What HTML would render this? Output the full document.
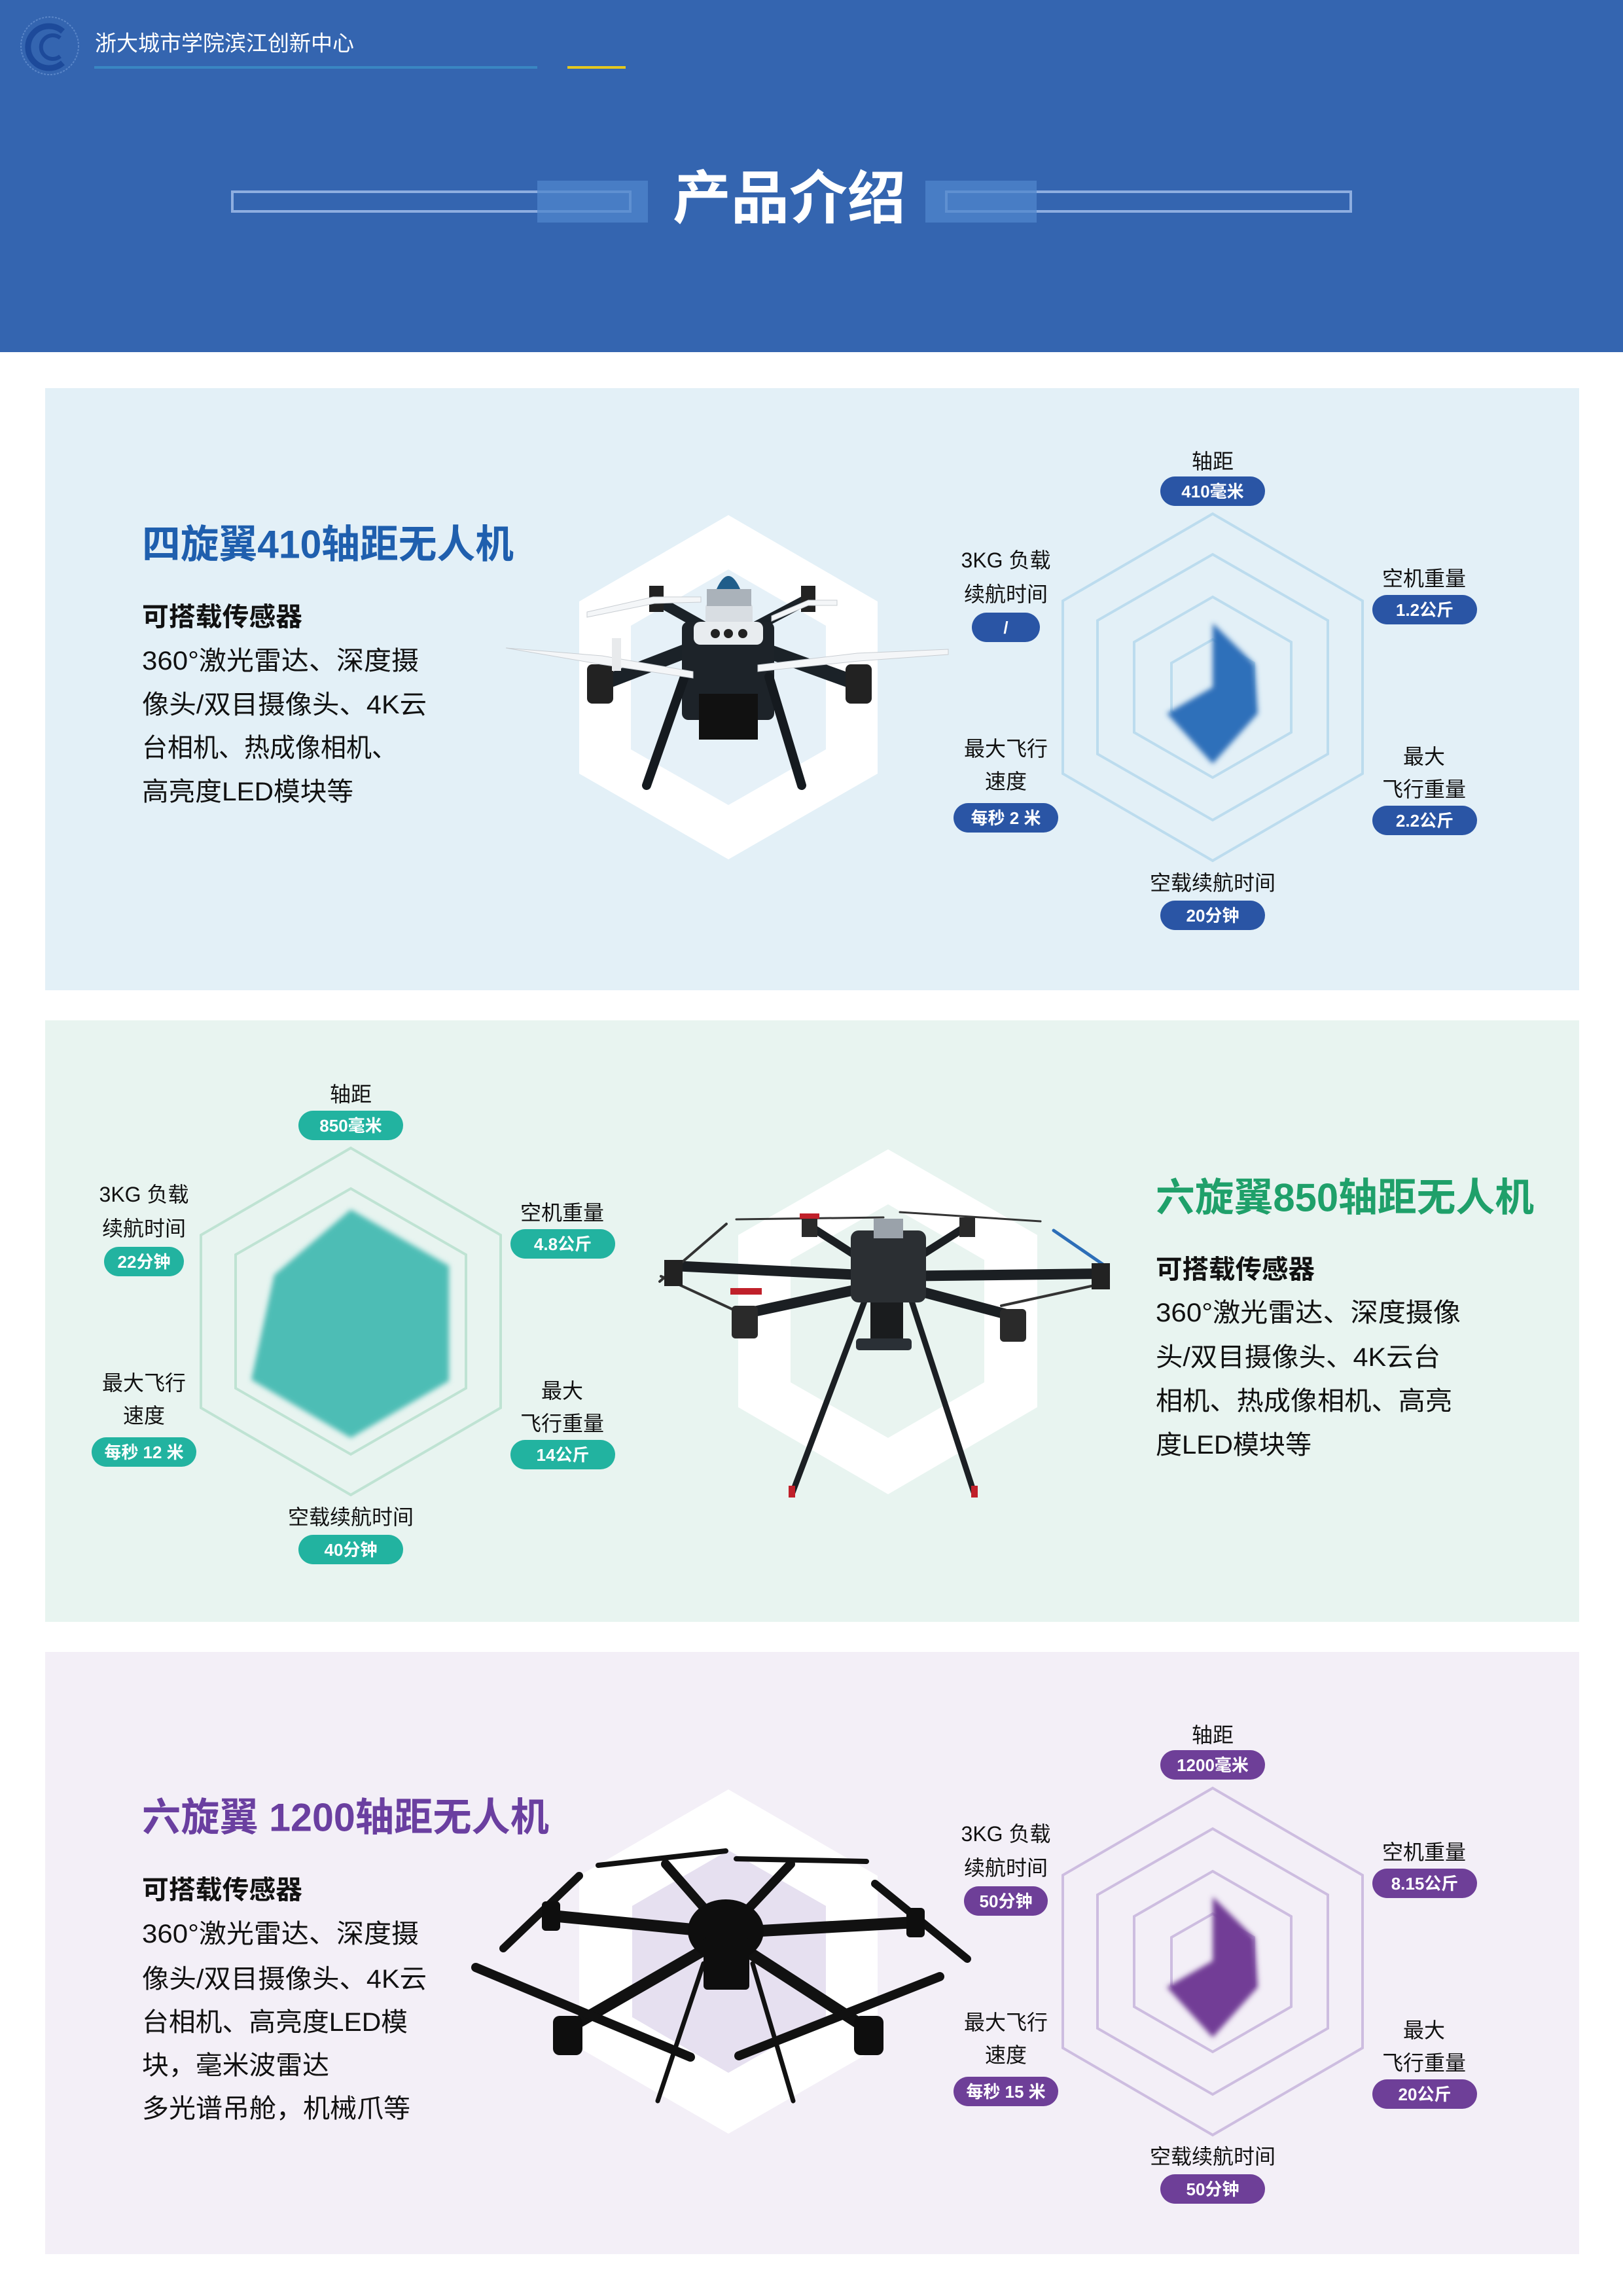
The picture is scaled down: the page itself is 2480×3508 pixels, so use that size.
<!DOCTYPE html>
<html><head><meta charset="utf-8">
<style>
html,body{margin:0;padding:0;background:#fff}
svg{display:block}
text{font-family:"Liberation Sans","Noto Sans CJK SC",sans-serif}
</style></head>
<body>
<svg width="2480" height="3508" viewBox="0 0 2480 3508" xmlns="http://www.w3.org/2000/svg">
<defs>
<filter id="soft" x="-20%" y="-20%" width="140%" height="140%"><feGaussianBlur stdDeviation="4"/></filter>
<linearGradient id="gb" x1="0" y1="0" x2="0" y2="1"><stop offset="0" stop-color="#2f6dba"/><stop offset="1" stop-color="#2a74c4"/></linearGradient>
</defs>
<!-- header -->
<rect x="0" y="0" width="2480" height="538" fill="#3465b0"/>
<circle cx="76" cy="70" r="44" fill="none" stroke="#5a86c8" stroke-width="2" stroke-dasharray="3 2"/>
<path d="M96 48 A32 32 0 1 0 96 96" fill="none" stroke="#1d4a9a" stroke-width="9"/>
<path d="M92 58 A18 18 0 1 0 92 86" fill="none" stroke="#1d4a9a" stroke-width="6"/>
<text x="145" y="66" font-size="33" fill="#fff" dominant-baseline="central" textLength="396" lengthAdjust="spacingAndGlyphs">浙大城市学院滨江创新中心</text>
<rect x="144" y="101" width="677" height="4" fill="#3a86c2"/>
<rect x="867" y="101" width="89" height="4" fill="#e3c81e"/>
<rect x="355" y="293" width="608" height="30" fill="none" stroke="#8eaee0" stroke-width="4"/>
<rect x="1446" y="293" width="618" height="30" fill="none" stroke="#8eaee0" stroke-width="4"/>
<rect x="821" y="276" width="169" height="64" fill="#4f86cc" opacity="0.75"/>
<rect x="1414" y="276" width="170" height="64" fill="#4f86cc" opacity="0.75"/>
<text x="1206" y="303" font-size="88" font-weight="bold" fill="#fff" text-anchor="middle" dominant-baseline="central" textLength="356" lengthAdjust="spacingAndGlyphs">产品介绍</text>

<!-- section backgrounds -->
<rect x="69" y="593" width="2344" height="920" fill="#e3f0f7"/>
<rect x="69" y="1559" width="2344" height="919" fill="#e8f4f0"/>
<rect x="69" y="2524" width="2344" height="920" fill="#f3eff7"/>

<!-- ===== Section 1 ===== -->
<g fill="#111">
<text x="217" y="832" font-size="60" font-weight="bold" fill="#1f5fae" dominant-baseline="central" textLength="568" lengthAdjust="spacingAndGlyphs">四旋翼410轴距无人机</text>
<text x="217" y="943" font-size="40" font-weight="bold" dominant-baseline="central" textLength="245" lengthAdjust="spacingAndGlyphs">可搭载传感器</text>
<text x="217" y="1010" font-size="40" dominant-baseline="central" textLength="423" lengthAdjust="spacingAndGlyphs">360°激光雷达、深度摄</text>
<text x="217" y="1077" font-size="40" dominant-baseline="central" textLength="435" lengthAdjust="spacingAndGlyphs">像头/双目摄像头、4K云</text>
<text x="217" y="1143" font-size="40" dominant-baseline="central" textLength="390" lengthAdjust="spacingAndGlyphs">台相机、热成像相机、</text>
<text x="217" y="1210" font-size="40" dominant-baseline="central" textLength="323" lengthAdjust="spacingAndGlyphs">高亮度LED模块等</text>
</g>
<polygon points="1113,787 1341,919 1341,1182 1113,1313 885,1182 885,919" fill="#fff"/>
<polygon points="1113,870 1262,956 1262,1145 1113,1230 964,1145 964,956" fill="#e6f1f8"/>
<!-- drone 1 -->
<g>
<line x1="1060" y1="990" x2="918" y2="1045" stroke="#1b2228" stroke-width="22"/>
<line x1="1160" y1="990" x2="1312" y2="1045" stroke="#1b2228" stroke-width="22"/>
<line x1="1080" y1="960" x2="1000" y2="915" stroke="#1b2228" stroke-width="16"/>
<line x1="1150" y1="960" x2="1235" y2="915" stroke="#1b2228" stroke-width="16"/>
<rect x="1042" y="950" width="141" height="150" rx="10" fill="#1d2329"/>
<rect x="1068" y="1060" width="90" height="70" fill="#111"/>
<rect x="1078" y="922" width="72" height="38" rx="6" fill="#d8dde2"/>
<rect x="1080" y="900" width="68" height="26" fill="#aab2ba"/>
<path d="M1095 900 Q1113 860 1131 900 Z" fill="#1f5d8a"/>
<rect x="1060" y="950" width="106" height="35" rx="10" fill="#e8ecef"/>
<circle cx="1093" cy="968" r="7" fill="#222"/><circle cx="1113" cy="968" r="7" fill="#222"/><circle cx="1135" cy="968" r="7" fill="#222"/>
<line x1="1046" y1="1034" x2="988" y2="1200" stroke="#151a1f" stroke-width="14" stroke-linecap="round"/>
<line x1="1175" y1="1034" x2="1225" y2="1200" stroke="#151a1f" stroke-width="14" stroke-linecap="round"/>
<rect x="897" y="1015" width="40" height="60" rx="8" fill="#222"/>
<rect x="1292" y="1015" width="40" height="60" rx="8" fill="#222"/>
<rect x="992" y="895" width="22" height="40" fill="#222"/>
<rect x="1224" y="895" width="22" height="40" fill="#222"/>
<path d="M773 990 L918 1015 L1059 1036 L1059 1026 L920 1002 Z" fill="#f4f6f8" stroke="#c8cdd2" stroke-width="1"/>
<path d="M1158 1026 L1312 1010 L1449 1000 L1449 992 L1310 998 L1158 1016 Z" fill="#f4f6f8" stroke="#c8cdd2" stroke-width="1"/>
<path d="M897 943 L1000 922 L1071 920 L1071 912 L998 912 L897 935 Z" fill="#f4f6f8" stroke="#c8cdd2" stroke-width="1"/>
<path d="M1179 949 L1235 925 L1279 925 L1279 917 L1235 917 L1179 941 Z" fill="#f4f6f8" stroke="#c8cdd2" stroke-width="1"/>
<rect x="935" y="975" width="14" height="50" fill="#e8eaec"/>
</g>
<!-- radar 1 -->
<g fill="none" stroke="#bcdcee" stroke-width="4">
<polygon points="1853,785 2082,918 2082,1182 1853,1315 1624,1182 1624,918"/>
<polygon points="1853,847 2029,948 2029,1152 1853,1253 1677,1152 1677,948"/>
<polygon points="1853,912 1973,981 1973,1119 1853,1188 1733,1119 1733,981"/>
<polygon points="1853,977 1916,1013 1916,1087 1853,1123 1790,1087 1790,1013"/>
</g>
<polygon points="1853,952 1917,1015 1922,1090 1853,1167 1783,1090 1853,1050" fill="#2e6fba" filter="url(#soft)"/>
<g font-size="32" fill="#111" text-anchor="middle" dominant-baseline="central">
<text x="1853" y="705">轴距</text>
<text x="1537" y="856">3KG 负载</text><text x="1537" y="908">续航时间</text>
<text x="1537" y="1144">最大飞行</text><text x="1537" y="1194">速度</text>
<text x="2176" y="884">空机重量</text>
<text x="2176" y="1156">最大</text><text x="2176" y="1206">飞行重量</text>
<text x="1853" y="1349">空载续航时间</text>
</g>
<g fill="#2a55a5">
<rect x="1773" y="728" width="160" height="45" rx="22.5"/>
<rect x="1485" y="936" width="104" height="45" rx="22.5"/>
<rect x="1457" y="1227" width="160" height="45" rx="22.5"/>
<rect x="2097" y="909" width="160" height="45" rx="22.5"/>
<rect x="2097" y="1231" width="160" height="45" rx="22.5"/>
<rect x="1773" y="1376" width="160" height="45" rx="22.5"/>
</g>
<g font-size="26" font-weight="bold" fill="#fff" text-anchor="middle" dominant-baseline="central">
<text x="1853" y="751">410毫米</text>
<text x="1537" y="959">/</text>
<text x="1537" y="1250">每秒 2 米</text>
<text x="2177" y="932">1.2公斤</text>
<text x="2177" y="1254">2.2公斤</text>
<text x="1853" y="1399">20分钟</text>
</g>

<!-- ===== Section 2 ===== -->
<g fill="none" stroke="#bfe3d3" stroke-width="4">
<polygon points="536,1754 765,1887 765,2151 536,2284 307,2151 307,1887"/>
<polygon points="536,1816 712,1917 712,2121 536,2222 360,2121 360,1917"/>
</g>
<polygon points="536,1848 686,1934 686,2110 536,2197 384,2108 419,1948" fill="#4dbdb5" filter="url(#soft)"/>
<g font-size="32" fill="#111" text-anchor="middle" dominant-baseline="central">
<text x="536" y="1672">轴距</text>
<text x="220" y="1825">3KG 负载</text><text x="220" y="1877">续航时间</text>
<text x="220" y="2113">最大飞行</text><text x="220" y="2163">速度</text>
<text x="859" y="1853">空机重量</text>
<text x="859" y="2125">最大</text><text x="859" y="2175">飞行重量</text>
<text x="536" y="2318">空载续航时间</text>
</g>
<g fill="#22b3a0">
<rect x="456" y="1697" width="160" height="45" rx="22.5"/>
<rect x="159" y="1905" width="122" height="45" rx="22.5"/>
<rect x="140" y="2196" width="160" height="45" rx="22.5"/>
<rect x="780" y="1878" width="160" height="45" rx="22.5"/>
<rect x="780" y="2200" width="160" height="45" rx="22.5"/>
<rect x="456" y="2345" width="160" height="45" rx="22.5"/>
</g>
<g font-size="26" font-weight="bold" fill="#fff" text-anchor="middle" dominant-baseline="central">
<text x="536" y="1720">850毫米</text>
<text x="220" y="1928">22分钟</text>
<text x="220" y="2219">每秒 12 米</text>
<text x="860" y="1901">4.8公斤</text>
<text x="860" y="2223">14公斤</text>
<text x="536" y="2368">40分钟</text>
</g>
<polygon points="1357,1756 1585,1887 1585,2150 1357,2283 1128,2150 1128,1887" fill="#fff"/>
<polygon points="1357,1840 1504,1925 1504,2112 1357,2197 1208,2112 1208,1925" fill="#e9f4f0"/>
<!-- drone 2 -->
<g stroke="#1b1f23" stroke-linecap="round">
<line x1="1357" y1="1950" x2="1027" y2="1934" stroke-width="16"/>
<line x1="1357" y1="1950" x2="1683" y2="1946" stroke-width="16"/>
<line x1="1357" y1="1950" x2="1237" y2="1873" stroke-width="12"/>
<line x1="1357" y1="1950" x2="1478" y2="1873" stroke-width="12"/>
<line x1="1357" y1="1960" x2="1138" y2="2007" stroke-width="16"/>
<line x1="1357" y1="1960" x2="1549" y2="2011" stroke-width="16"/>
<line x1="1321" y1="1988" x2="1210" y2="2283" stroke-width="9"/>
<line x1="1393" y1="1988" x2="1489" y2="2283" stroke-width="9"/>
<line x1="1125" y1="1863" x2="1350" y2="1860" stroke-width="3" stroke="#333"/>
<line x1="1375" y1="1852" x2="1590" y2="1866" stroke-width="3" stroke="#333"/>
<line x1="1008" y1="1958" x2="1110" y2="1870" stroke-width="4" stroke="#333"/>
<line x1="1610" y1="1880" x2="1690" y2="1935" stroke-width="5" stroke="#2d6eb8"/>
<line x1="1010" y1="1950" x2="1140" y2="2010" stroke-width="4" stroke="#333"/>
<line x1="1530" y1="1995" x2="1690" y2="1960" stroke-width="4" stroke="#333"/>
</g>
<g>
<rect x="1300" y="1880" width="115" height="110" rx="12" fill="#2b2f33"/>
<rect x="1335" y="1862" width="45" height="30" fill="#9aa2aa"/>
<rect x="1330" y="1990" width="50" height="70" fill="#1a1c1e"/>
<rect x="1308" y="2045" width="85" height="18" rx="5" fill="#2a3036"/>
<rect x="1015" y="1925" width="28" height="40" fill="#222"/>
<rect x="1668" y="1930" width="28" height="40" fill="#222"/>
<rect x="1118" y="1995" width="40" height="50" rx="6" fill="#2a2a2a"/>
<rect x="1528" y="2000" width="40" height="50" rx="6" fill="#2a2a2a"/>
<rect x="1225" y="1860" width="24" height="30" fill="#2a2a2a"/>
<rect x="1466" y="1860" width="24" height="30" fill="#2a2a2a"/>
<rect x="1116" y="1968" width="48" height="10" fill="#c0202a"/>
<rect x="1222" y="1854" width="30" height="8" fill="#c0202a"/>
<rect x="1205" y="2270" width="10" height="18" fill="#c0202a"/>
<rect x="1484" y="2270" width="10" height="18" fill="#c0202a"/>
</g>
<g fill="#111">
<text x="1766" y="1830" font-size="60" font-weight="bold" fill="#1fa06a" dominant-baseline="central" textLength="578" lengthAdjust="spacingAndGlyphs">六旋翼850轴距无人机</text>
<text x="1766" y="1940" font-size="40" font-weight="bold" dominant-baseline="central" textLength="243" lengthAdjust="spacingAndGlyphs">可搭载传感器</text>
<text x="1766" y="2006" font-size="40" dominant-baseline="central" textLength="466" lengthAdjust="spacingAndGlyphs">360°激光雷达、深度摄像</text>
<text x="1766" y="2074" font-size="40" dominant-baseline="central" textLength="435" lengthAdjust="spacingAndGlyphs">头/双目摄像头、4K云台</text>
<text x="1766" y="2141" font-size="40" dominant-baseline="central" textLength="453" lengthAdjust="spacingAndGlyphs">相机、热成像相机、高亮</text>
<text x="1766" y="2208" font-size="40" dominant-baseline="central" textLength="238" lengthAdjust="spacingAndGlyphs">度LED模块等</text>
</g>

<!-- ===== Section 3 ===== -->
<g fill="#111">
<text x="217" y="2777" font-size="60" font-weight="bold" fill="#6a3fa0" dominant-baseline="central" textLength="622" lengthAdjust="spacingAndGlyphs">六旋翼 1200轴距无人机</text>
<text x="217" y="2888" font-size="40" font-weight="bold" dominant-baseline="central" textLength="245" lengthAdjust="spacingAndGlyphs">可搭载传感器</text>
<text x="217" y="2955" font-size="40" dominant-baseline="central" textLength="423" lengthAdjust="spacingAndGlyphs">360°激光雷达、深度摄</text>
<text x="217" y="3024" font-size="40" dominant-baseline="central" textLength="435" lengthAdjust="spacingAndGlyphs">像头/双目摄像头、4K云</text>
<text x="217" y="3090" font-size="40" dominant-baseline="central" textLength="406" lengthAdjust="spacingAndGlyphs">台相机、高亮度LED模</text>
<text x="217" y="3156" font-size="40" dominant-baseline="central" textLength="286" lengthAdjust="spacingAndGlyphs">块，毫米波雷达</text>
<text x="217" y="3222" font-size="40" dominant-baseline="central" textLength="410" lengthAdjust="spacingAndGlyphs">多光谱吊舱，机械爪等</text>
</g>
<polygon points="1113,2734 1341,2866 1341,3129 1113,3260 885,3129 885,2866" fill="#fff"/>
<polygon points="1113,2827 1262,2912 1262,3082 1113,3167 966,3082 966,2912" fill="#e6e0f0"/>
<!-- drone 3 -->
<g stroke="#111" stroke-linecap="round">
<line x1="1109" y1="2953" x2="843" y2="2927" stroke-width="18"/>
<line x1="1109" y1="2953" x2="1399" y2="2937" stroke-width="18"/>
<line x1="1109" y1="2953" x2="1017" y2="2848" stroke-width="14"/>
<line x1="1109" y1="2953" x2="1208" y2="2848" stroke-width="14"/>
<line x1="1109" y1="2960" x2="868" y2="3099" stroke-width="18"/>
<line x1="1109" y1="2960" x2="1324" y2="3099" stroke-width="18"/>
<line x1="1075" y1="3000" x2="1005" y2="3210" stroke-width="7"/>
<line x1="1150" y1="3000" x2="1212" y2="3210" stroke-width="7"/>
<line x1="914" y1="2850" x2="1109" y2="2828" stroke-width="8"/>
<line x1="1125" y1="2840" x2="1324" y2="2844" stroke-width="8"/>
<line x1="769" y1="2977" x2="885" y2="2866" stroke-width="12"/>
<line x1="1337" y1="2878" x2="1478" y2="2993" stroke-width="12"/>
<line x1="727" y1="3006" x2="1055" y2="3143" stroke-width="14"/>
<line x1="1129" y1="3141" x2="1436" y2="3020" stroke-width="14"/>
</g>
<g fill="#0e0e0e">
<ellipse cx="1109" cy="2950" rx="58" ry="48"/>
<rect x="1075" y="2960" width="70" height="80" rx="6"/>
<rect x="845" y="3080" width="45" height="60" rx="10"/>
<rect x="1305" y="3080" width="45" height="60" rx="10"/>
<rect x="828" y="2905" width="28" height="45" rx="6"/>
<rect x="1385" y="2915" width="28" height="45" rx="6"/>
</g>
<g fill="none" stroke="#cdbde0" stroke-width="4">
<polygon points="1853,2732 2082,2865 2082,3129 1853,3262 1624,3129 1624,2865"/>
<polygon points="1853,2794 2029,2895 2029,3099 1853,3200 1677,3099 1677,2895"/>
<polygon points="1853,2859 1973,2928 1973,3066 1853,3135 1733,3066 1733,2928"/>
<polygon points="1853,2924 1916,2960 1916,3034 1853,3070 1790,3034 1790,2960"/>
</g>
<polygon points="1853,2898 1917,2961 1922,3036 1853,3113 1783,3036 1853,2996" fill="#723c96" filter="url(#soft)"/>
<g font-size="32" fill="#111" text-anchor="middle" dominant-baseline="central">
<text x="1853" y="2651">轴距</text>
<text x="1537" y="2802">3KG 负载</text><text x="1537" y="2854">续航时间</text>
<text x="1537" y="3090">最大飞行</text><text x="1537" y="3140">速度</text>
<text x="2176" y="2830">空机重量</text>
<text x="2176" y="3102">最大</text><text x="2176" y="3152">飞行重量</text>
<text x="1853" y="3295">空载续航时间</text>
</g>
<g fill="#6e3f98">
<rect x="1773" y="2674" width="160" height="45" rx="22.5"/>
<rect x="1473" y="2882" width="128" height="45" rx="22.5"/>
<rect x="1457" y="3173" width="160" height="45" rx="22.5"/>
<rect x="2097" y="2855" width="160" height="45" rx="22.5"/>
<rect x="2097" y="3177" width="160" height="45" rx="22.5"/>
<rect x="1773" y="3322" width="160" height="45" rx="22.5"/>
</g>
<g font-size="26" font-weight="bold" fill="#fff" text-anchor="middle" dominant-baseline="central">
<text x="1853" y="2697">1200毫米</text>
<text x="1537" y="2905">50分钟</text>
<text x="1537" y="3196">每秒 15 米</text>
<text x="2177" y="2878">8.15公斤</text>
<text x="2177" y="3200">20公斤</text>
<text x="1853" y="3345">50分钟</text>
</g>
</svg>
</body></html>
